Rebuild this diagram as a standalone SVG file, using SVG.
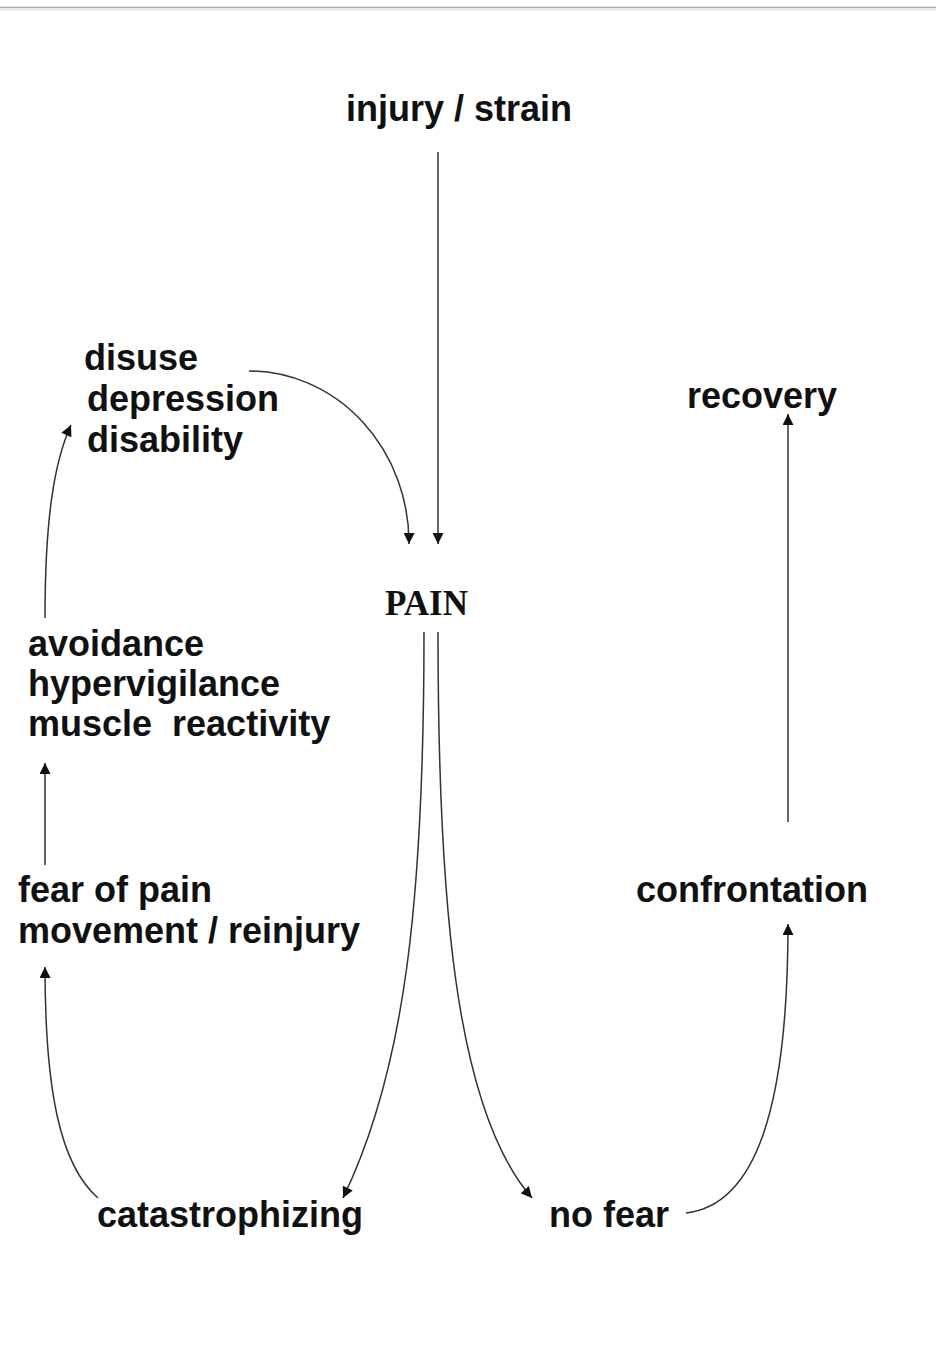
<svg xmlns="http://www.w3.org/2000/svg" width="936" height="1363" viewBox="0 0 936 1363">
<style>
.t{font-family:"Liberation Sans",Arial,sans-serif;font-weight:bold;font-size:36px;fill:#111;white-space:pre}
.p{font-family:"Liberation Serif","Times New Roman",serif;font-weight:bold;font-size:35px;fill:#111}
.c{fill:none;stroke:#333;stroke-width:1.5}
</style>
<defs>
<marker id="ah" viewBox="0 0 10 10" refX="10" refY="5" markerUnits="userSpaceOnUse" markerWidth="12" markerHeight="11" orient="auto">
<path d="M0,0 L10,5 L0,10 z" fill="#111"/>
</marker>
</defs>
<rect width="936" height="1363" fill="#fff"/>
<line x1="0" y1="7.5" x2="936" y2="7.5" stroke="#a8a8a8" stroke-width="1.5"/>
<line x1="0" y1="10" x2="936" y2="10" stroke="#eee" stroke-width="2"/>
<g id="connectors">
<path class="c" d="M438,152 L438,544" marker-end="url(#ah)"/>
<path class="c" d="M249,371 A160,172 0 0 1 409,544" marker-end="url(#ah)"/>
<path class="c" d="M45,618 C45,520 54,462 71,425" marker-end="url(#ah)"/>
<path class="c" d="M45,865 L45,763" marker-end="url(#ah)"/>
<path class="c" d="M98,1198 C60,1165 45,1090 45,967" marker-end="url(#ah)"/>
<path class="c" d="M424,632 C424,900 405,1070 343,1198" marker-end="url(#ah)"/>
<path class="c" d="M438,632 C438,900 455,1110 532,1198" marker-end="url(#ah)"/>
<path class="c" d="M686,1213 C755,1205 788,1110 788,924" marker-end="url(#ah)"/>
<path class="c" d="M788,822 L788,414" marker-end="url(#ah)"/>
</g>
<g id="injury"><text class="t" x="346" y="121">injury / strain</text></g>
<g id="disuse">
<text class="t" x="84" y="370">disuse</text>
<text class="t" x="87" y="411">depression</text>
<text class="t" x="87" y="452">disability</text>
</g>
<g id="recovery"><text class="t" x="687" y="408">recovery</text></g>
<g id="pain"><text class="p" x="385" y="615">PAIN</text></g>
<g id="avoidance">
<text class="t" x="28" y="656">avoidance</text>
<text class="t" x="28" y="696">hypervigilance</text>
<text class="t" x="28" y="736">muscle  reactivity</text>
</g>
<g id="fear">
<text class="t" x="18" y="902">fear of pain</text>
<text class="t" x="18" y="943">movement / reinjury</text>
</g>
<g id="confrontation"><text class="t" x="636" y="902">confrontation</text></g>
<g id="catastrophizing"><text class="t" x="97" y="1227">catastrophizing</text></g>
<g id="nofear"><text class="t" x="549" y="1227">no fear</text></g>
</svg>
